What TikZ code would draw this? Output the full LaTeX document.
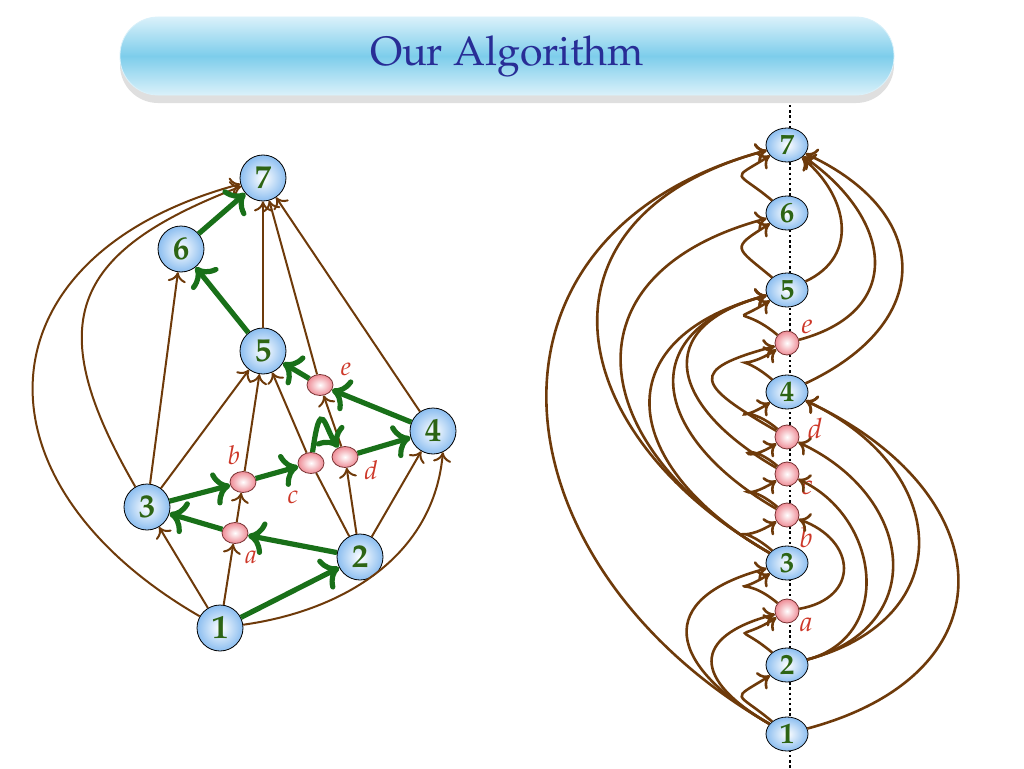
\documentclass[tikz,border=0pt]{standalone}
\usepackage[T1]{fontenc}
\usepackage{mathpazo}
\usepackage{tikz}
\usetikzlibrary{arrows.meta,positioning,calc,shapes.geometric,shadows}

\definecolor{edgebrown}{RGB}{110,58,10}
\definecolor{pathgreen}{RGB}{25,112,25}
\definecolor{numgreen}{RGB}{45,100,20}
\definecolor{nodeblue}{RGB}{140,190,240}
\definecolor{nodepink}{RGB}{238,140,150}
\definecolor{pinkedge}{RGB}{120,50,50}
\definecolor{lblred}{RGB}{205,55,40}
\definecolor{titleblue}{RGB}{40,45,150}
\definecolor{bannermid}{RGB}{125,205,235}
\definecolor{bannerlight}{RGB}{218,241,250}

\begin{document}
\begin{tikzpicture}[x=0.5pt, y=0.5pt,
        banner/.style={rectangle, rounded corners=19pt, minimum width=387pt,
        minimum height=39pt, draw=bannerlight, top color=bannerlight,
        bottom color=bannerlight, middle color=bannermid,
        drop shadow={shadow xshift=0pt, shadow yshift=-4pt, opacity=0.25},
        text=titleblue, font=\fontsize{20.5}{20.5}\selectfont},
        bignode/.style={circle, draw, thin, inner sep=0pt, minimum size=23pt,
        inner color=white, outer color=nodeblue, text=numgreen,
        font=\fontsize{16.5}{16.5}\selectfont\bfseries},
        smallnode/.style={ellipse, draw=pinkedge, thin, inner sep=0pt,
        minimum width=13pt, minimum height=10.5pt,
        inner color=white, outer color=nodepink},
        rbig/.style={bignode, ellipse, minimum width=21pt, minimum height=17pt,
        font=\fontsize{14.5}{14.5}\selectfont\bfseries},
        rsmall/.style={smallnode, circle, minimum size=12pt},
        lbl/.style={text=lblred, inner sep=0pt, font=\fontsize{13}{13}\selectfont},
        rlbl/.style={lbl, font=\fontsize{14}{14}\selectfont},
        brownedge/.style={draw=edgebrown, line width=1pt,
        -{Computer Modern Rightarrow[length=5pt, width=9pt]}},
        greenedge/.style={draw=pathgreen, line width=2.6pt,
        -{Computer Modern Rightarrow[length=8.5pt, width=17pt]}},
        rightedge/.style={draw=edgebrown, line width=1.3pt,
        -{Computer Modern Rightarrow[length=5.5pt, width=10pt]}},
        hop/.style={out=140, in=212, distance=24pt}]
    \useasboundingbox (0,0) rectangle (1024,768);

    \node[banner] (title) at (507,712) {Our Algorithm};

    % left: the graph
    \node[bignode] (nodeL7) at (263,590) {7};
    \node[bignode] (nodeL6) at (181,519) {6};
    \node[bignode] (nodeL5) at (263,417) {5};
    \node[smallnode] (nodeLe) at (320,383) {};
    \node[bignode] (nodeL4) at (433,337) {4};
    \node[smallnode] (nodeLd) at (345,311) {};
    \node[smallnode] (nodeLc) at (311,305) {};
    \node[smallnode] (nodeLb) at (243,286) {};
    \node[bignode] (nodeL3) at (147,261) {3};
    \node[smallnode] (nodeLa) at (235,235) {};
    \node[bignode] (nodeL2) at (360,211) {2};
    \node[bignode] (nodeL1) at (220,140) {1};

    \node[lbl] (labLe) at (346,399) {$e$};
    \node[lbl] (labLd) at (371,298) {$d$};
    \node[lbl] (labLc) at (293,271) {$c$};
    \node[lbl] (labLb) at (234,313) {$b$};
    \node[lbl] (labLa) at (251,211) {$a$};

    \draw[brownedge] (nodeL1) to[out=150, in=195, looseness=1.6]
                     (nodeL7);
    \draw[brownedge] (nodeL3) to[out=120, in=201, looseness=1.5]
                     (nodeL7);
    \draw[brownedge] (nodeL1) to[out=8, in=-95]
                     (nodeL4.-65);
    \draw[brownedge] (nodeL1) -- 
                     (nodeL3);
    \draw[brownedge] (nodeL1) -- 
                     (nodeLa);
    \draw[brownedge] (nodeL3) -- 
                     (nodeL6);
    \draw[brownedge] (nodeL3) -- 
                     (nodeL5);
    \draw[brownedge] (nodeLa) -- 
                     (nodeLb);
    \draw[brownedge] (nodeLb) -- 
                     (nodeL5);
    \draw[brownedge, -] (nodeL2) -- 
                     (nodeLc);
    \draw[brownedge] (nodeLc) -- 
                     (nodeL5);
    \draw[brownedge] (nodeL2) -- 
                     (nodeLd);
    \draw[brownedge] (nodeL2) -- 
                     (nodeL4);
    \draw[brownedge] (nodeLd) -- 
                     (nodeLe);
    \draw[brownedge] (nodeLe) -- 
                     (nodeL7);
    \draw[brownedge] (nodeL5) -- 
                     (nodeL7);
    \draw[brownedge] (nodeL4) -- 
                     (nodeL7);

    \draw[greenedge] (nodeL1) -- 
                     (nodeL2);
    \draw[greenedge] (nodeL2) -- 
                     (nodeLa);
    \draw[greenedge] (nodeLa) -- 
                     (nodeL3);
    \draw[greenedge] (nodeL3) -- 
                     (nodeLb);
    \draw[greenedge] (nodeLb) -- 
                     (nodeLc);
    \draw[greenedge] (nodeLc) to[out=82, in=125, out distance=30pt, in distance=12pt]
                     (nodeLd);
    \draw[greenedge] (nodeLd) -- 
                     (nodeL4);
    \draw[greenedge] (nodeL4) -- 
                     (nodeLe);
    \draw[greenedge] (nodeLe) -- 
                     (nodeL5);
    \draw[greenedge] (nodeL5) -- 
                     (nodeL6);
    \draw[greenedge] (nodeL6) -- 
                     (nodeL7);

    % right: the same graph along a line
    \coordinate (axisTop) at (790,663);
    \coordinate (axisBot) at (790,0);
    \draw[line width=1.2pt, dash pattern=on 1.2pt off 1.4pt] (axisTop) -- (axisBot);

    \node[rbig] (nodeR7) at (787,623) {7};
    \node[rbig] (nodeR6) at (787,555) {6};
    \node[rbig] (nodeR5) at (787,478) {5};
    \node[rsmall] (nodeRe) at (787,425) {};
    \node[rbig] (nodeR4) at (787,376) {4};
    \node[rsmall] (nodeRd) at (787,331) {};
    \node[rsmall] (nodeRc) at (787,294) {};
    \node[rsmall] (nodeRb) at (787,253) {};
    \node[rbig] (nodeR3) at (787,205) {3};
    \node[rsmall] (nodeRa) at (787,157) {};
    \node[rbig] (nodeR2) at (787,103) {2};
    \node[rbig] (nodeR1) at (787,34) {1};

    \node[rlbl] (labRe) at (807,441) {$e$};
    \node[rlbl] (labRd) at (815,340) {$d$};
    \node[rlbl] (labRc) at (807,280) {$c$};
    \node[rlbl] (labRb) at (806,231) {$b$};
    \node[rlbl] (labRa) at (806,143) {$a$};

    \draw[rightedge] (nodeR1) to[hop]
                     (nodeR2);
    \draw[rightedge] (nodeR2) to[hop]
                     (nodeRa);
    \draw[rightedge] (nodeRa) to[hop]
                     (nodeR3);
    \draw[rightedge] (nodeR3) to[hop]
                     (nodeRb);
    \draw[rightedge] (nodeRb) to[hop]
                     (nodeRc);
    \draw[rightedge] (nodeRc) to[hop]
                     (nodeRd);
    \draw[rightedge] (nodeRd) to[hop]
                     (nodeR4);
    \draw[rightedge] (nodeR4) to[hop]
                     (nodeRe);
    \draw[rightedge] (nodeRe) to[hop]
                     (nodeR5);
    \draw[rightedge] (nodeR5) to[hop]
                     (nodeR6);
    \draw[rightedge] (nodeR6) to[hop]
                     (nodeR7);

    \draw[rightedge] (nodeR1) to[out=150, in=195, distance=161pt]
                     (nodeR7);
    \draw[rightedge] (nodeR3) to[out=150, in=195, distance=124pt]
                     (nodeR7);
    \draw[rightedge] (nodeR3) to[out=150, in=195, distance=107pt]
                     (nodeR6);
    \draw[rightedge] (nodeR3) to[out=150, in=195, distance=86pt]
                     (nodeR5);
    \draw[rightedge] (nodeRb) to[out=150, in=195, distance=71pt]
                     (nodeR5);
    \draw[rightedge] (nodeRc) to[out=150, in=195, distance=61pt]
                     (nodeR5);
    \draw[rightedge] (nodeRd) to[out=150, in=195, distance=46pt]
                     (nodeRe);
    \draw[rightedge] (nodeR1) to[out=150, in=195, distance=59pt]
                     (nodeR3);
    \draw[rightedge] (nodeR1) to[out=150, in=195, distance=44pt]
                     (nodeRa);

    \draw[rightedge] (nodeR1) to[out=15, in=-25, distance=108pt]
                     (nodeR4);
    \draw[rightedge] (nodeR2) to[out=15, in=-25, distance=80pt]
                     (nodeR4);
    \draw[rightedge] (nodeR2) to[out=15, in=-25, distance=64pt]
                     (nodeRd);
    \draw[rightedge] (nodeR2) to[out=15, in=-25, distance=45pt]
                     (nodeRc);
    \draw[rightedge] (nodeRa) to[out=10, in=-20, distance=31pt]
                     (nodeRb);
    \draw[rightedge] (nodeR5) to[out=25, in=-40, distance=30pt]
                     (nodeR7);
    \draw[rightedge] (nodeRe) to[out=15, in=-35, distance=55pt]
                     (nodeR7);
    \draw[rightedge] (nodeR4) to[out=25, in=-25, distance=71pt]
                     (nodeR7);
\end{tikzpicture}
\end{document}
